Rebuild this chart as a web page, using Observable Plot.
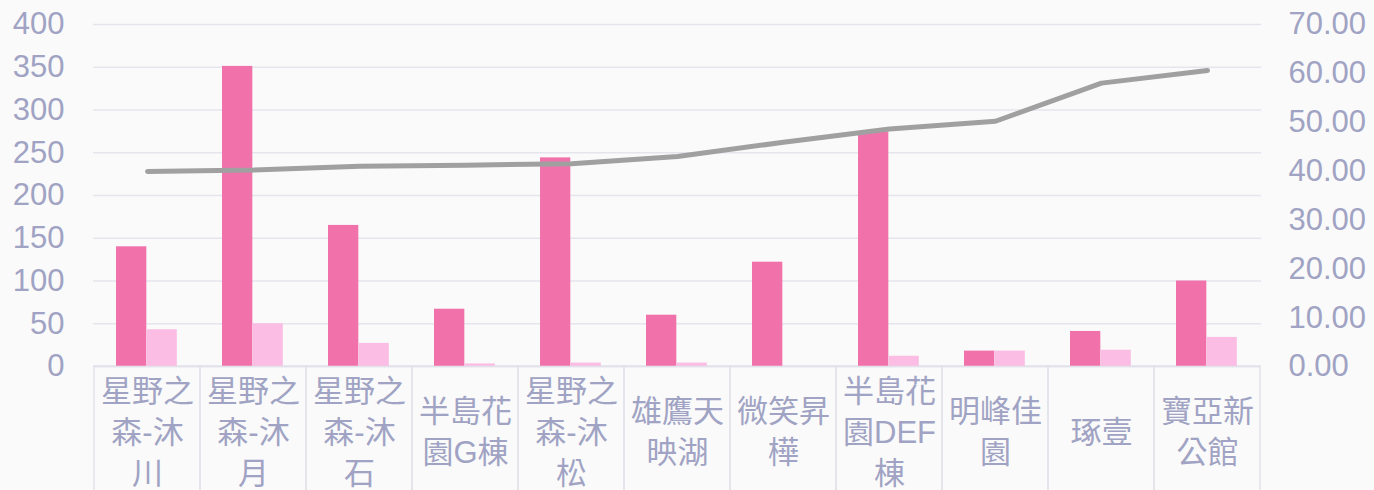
<!DOCTYPE html>
<html>
<head>
<meta charset="utf-8">
<script src="https://cdn.jsdelivr.net/npm/d3@7"></script>
<script src="https://cdn.jsdelivr.net/npm/@observablehq/plot@0.6"></script>
<style>
  html, body { margin: 0; padding: 0; background: #fafafa; }
  #chart svg { display: block; }
</style>
</head>
<body>
<div id="chart"></div>
<script>
const categories = ["星野之森-沐川", "星野之森-沐月", "星野之森-沐石", "半島花園G棟", "星野之森-沐松", "雄鷹天映湖", "微笑昇樺", "半島花園DEF棟", "明峰佳園", "琢壹", "寶亞新公館"];
const tickLabels = ["星野之\n森-沐\n川", "星野之\n森-沐\n月", "星野之\n森-沐\n石", "半島花\n園G棟", "星野之\n森-沐\n松", "雄鷹天\n映湖", "微笑昇\n樺", "半島花\n園DEF\n棟", "明峰佳\n園", "琢壹", "寶亞新\n公館"];
const darkValues = [140, 351, 165, 67, 244, 60, 122, 274, 18, 41, 100];
const lightValues = [43, 50, 27, 3, 4, 4, 0, 12, 18, 19, 34];
const lineValues = [39.9, 40.2, 41.0, 41.2, 41.5, 43.0, 45.9, 48.6, 50.2, 58.0, 60.6];
const leftTicks = [0, 50, 100, 150, 200, 250, 300, 350, 400];
const rightTicks = [0, 10, 20, 30, 40, 50, 60, 70];
const leftMax = 400;
const rightMax = 70;

const toLeft = v => v * leftMax / rightMax;
const rows = categories.map((c, i) => ({cat: c, dark: darkValues[i], light: lightValues[i], line: toLeft(lineValues[i])}));
const labelOf = new Map(categories.map((c, i) => [c, tickLabels[i]]));

const textColor = "#a0a3c3";
const W = 1374, H = 490, mL = 93, mR = 113;
const band = (W - mL - mR) / categories.length;
const barW = 30.5, offL = 22;

const chart = Plot.plot({
  width: W,
  height: H,
  marginLeft: mL,
  marginRight: mR,
  marginTop: 24,
  marginBottom: 124,
  style: {background: "#fafafa", fontFamily: "'Liberation Sans', 'Noto Sans CJK TC', sans-serif"},
  x: {type: "band", domain: categories, padding: 0, axis: null},
  y: {domain: [0, leftMax], axis: null},
  marks: [
    Plot.gridY(leftTicks, {stroke: "#e5e5ed", strokeOpacity: 1, strokeWidth: 1.5}),
    Plot.barY(categories, {x: d => d, y1: 0, y2: -leftMax, fill: "none", stroke: "#e2e2ea", strokeWidth: 1.5}),
    Plot.barY(rows, {x: "cat", y: "dark", fill: "#f172ab", insetLeft: offL, insetRight: band - offL - barW}),
    Plot.barY(rows, {x: "cat", y: "light", fill: "#fbbde4", insetLeft: offL + barW, insetRight: band - offL - 2 * barW}),
    Plot.ruleY([0], {stroke: "#e2e2ea", strokeWidth: 1.5}),
    Plot.line(rows, {x: "cat", y: "line", stroke: "#a0a0a0", strokeWidth: 5, curve: "linear", strokeLinecap: "round", strokeLinejoin: "round"}),
    Plot.axisY({anchor: "left", ticks: leftTicks, tickSize: 0, tickPadding: 29, fontSize: 31, color: textColor, label: null}),
    Plot.axisY({anchor: "right", ticks: rightTicks.map(toLeft), tickFormat: d => (d * rightMax / leftMax).toFixed(2), tickSize: 0, tickPadding: 27, fontSize: 31, color: textColor, label: null}),
    Plot.axisX({tickSize: 0, tickPadding: 63, lineAnchor: "middle", lineHeight: 1.32, fontSize: 31, color: textColor, label: null, tickFormat: d => labelOf.get(d)})
  ]
});
document.getElementById("chart").appendChild(chart);
</script>
</body>
</html>
